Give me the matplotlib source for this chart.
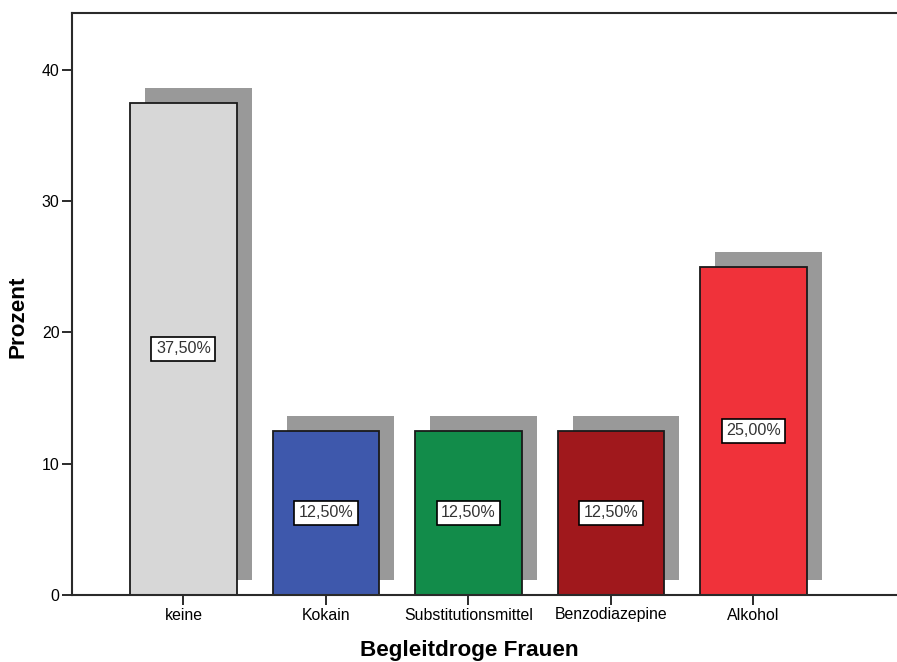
import matplotlib.pyplot as plt

plt.rcParams['font.family'] = ['Liberation Sans', 'DejaVu Sans']

categories = ['keine', 'Kokain', 'Substitutionsmittel', 'Benzodiazepine', 'Alkohol']
percent = [37.5, 12.5, 12.5, 12.5, 25.0]
labels = ['37,50%', '12,50%', '12,50%', '12,50%', '25,00%']
colors = ['#d7d7d7', '#3e58ac', '#128c4a', '#a0181c', '#f0323a']

fig = plt.figure(figsize=(8.97, 6.62), dpi=100)
ax = fig.add_axes([72 / 897, 67 / 662, 825 / 897, 582 / 662])

x = list(range(len(categories)))
width = 0.75
dx, dy = 0.105, 1.14

# drop shadow behind each bar
ax.bar([i + dx for i in x], percent, width=width, bottom=dy,
       color='#999999', linewidth=0, zorder=1)
ax.bar(x, percent, width=width, color=colors, edgecolor='#1a1a1a',
       linewidth=1.3, zorder=2)

for i, (v, t) in enumerate(zip(percent, labels)):
    ax.text(i, v / 2, t, ha='center', va='center', fontsize=11.6, color='#333333',
            zorder=3,
            bbox=dict(boxstyle='square,pad=0.28', facecolor='white',
                      edgecolor='black', linewidth=1.2))

ax.set_xlim(-0.782, 5.007)
ax.set_ylim(0, 44.34)
ax.set_xticks(x)
ax.set_xticklabels(categories, fontsize=11.4)
ax.set_yticks([0, 10, 20, 30, 40])
ax.tick_params(axis='both', length=7, width=1.3, color='#1a1a1a', labelsize=11.4, pad=2)

for s in ['left', 'top', 'bottom']:
    ax.spines[s].set_linewidth(1.5)
    ax.spines[s].set_color('#2a2a2a')
ax.spines['right'].set_visible(False)

ax.set_xlabel('Begleitdroge Frauen', fontsize=16.2, fontweight='bold')
ax.xaxis.set_label_coords((469 - 72) / 825, -0.078)
ax.set_ylabel('Prozent', fontsize=16.2, fontweight='bold')
ax.yaxis.set_label_coords(-0.053, 0.478)

fig.savefig('out.png', dpi=100)
